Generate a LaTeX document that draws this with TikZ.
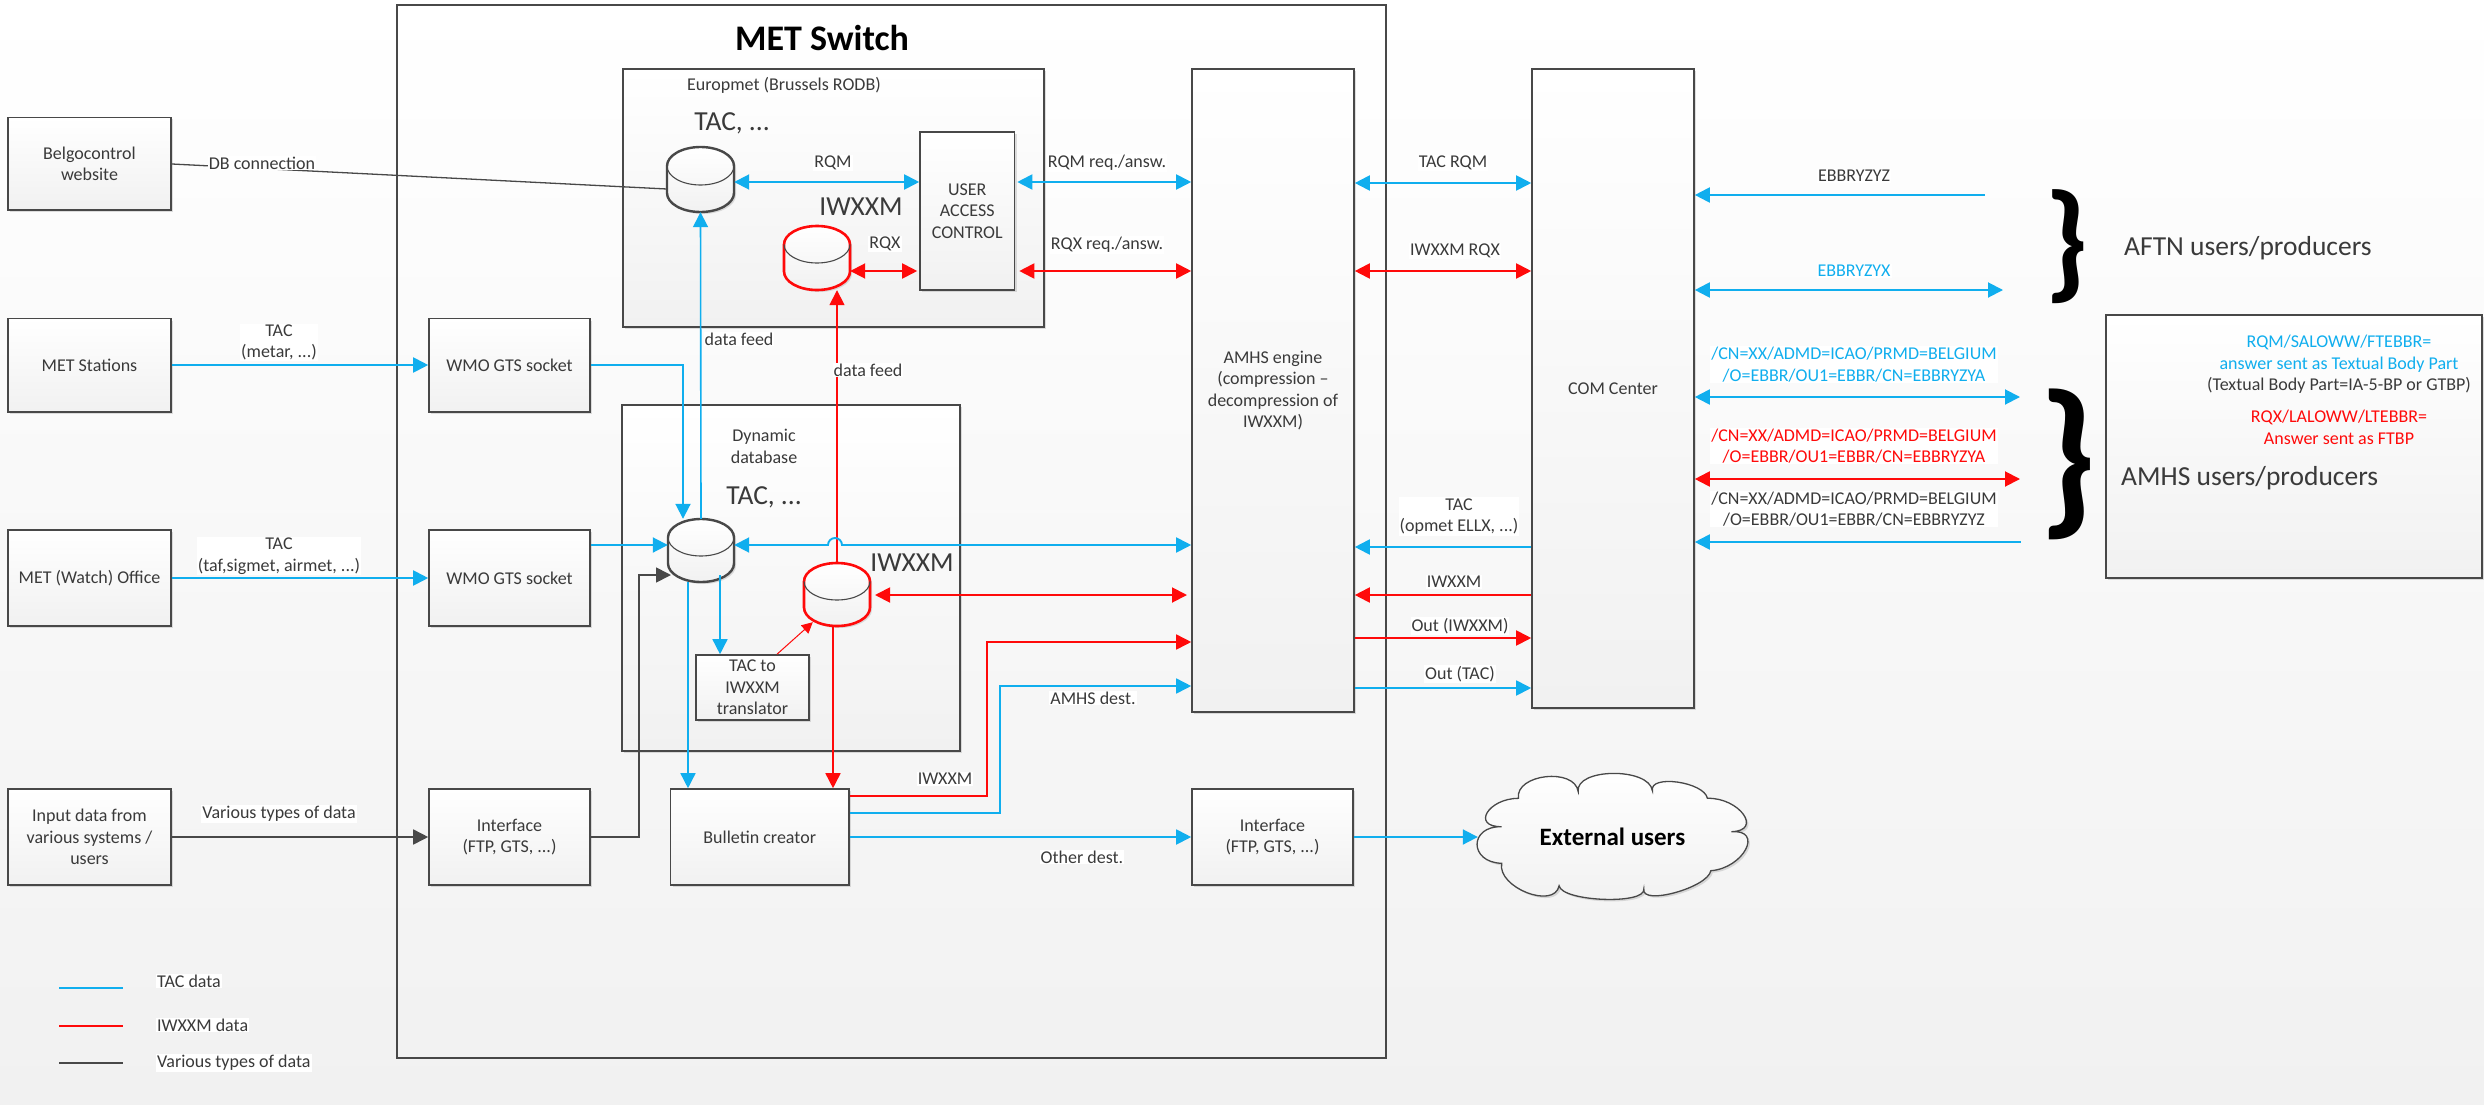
\documentclass[tikz,border=0pt]{standalone}
\usepackage{fontspec}
\setmainfont{Carlito}
\usetikzlibrary{arrows.meta,shadows,calc}
\definecolor{tacblue}{HTML}{10AEEE}
\definecolor{iwred}{HTML}{FF0A0A}
\definecolor{edge}{HTML}{484848}
\definecolor{ink}{HTML}{3A3A3A}
\definecolor{lowgray}{HTML}{F1F1F1}
\tikzset{
  >={Triangle[length=15pt,width=15pt]},
  small/.style={font=\fontsize{18}{21.5}\selectfont},
  big/.style={font=\fontsize{27.5}{32}\selectfont},
  sdw/.style={drop shadow={opacity=.25,shadow xshift=2pt,shadow yshift=-2pt}},
  box/.style={draw=edge,line width=1.6pt,top color=white,bottom color=lowgray,inner sep=0pt,
     align=center,text=ink,small,sdw},
  lbl/.style={fill=white,inner sep=1pt,align=center,text=ink,small},
  plain/.style={inner sep=0pt,align=center,text=ink,small},
  tac/.style={draw=tacblue,line width=1.9pt},
  iw/.style={draw=iwred,line width=1.9pt},
  var/.style={draw=edge,line width=1.7pt},
}
\newcommand{\boxat}[6]{\node[box,minimum width={(#4)-(#2)},minimum height={(#5)-(#3)}]
  (#1) at ({(#2+#4)/2},{(#3+#5)/2}) {#6};}
% name x1 y1 x2 y2 capbottom colour width
\newcommand{\dbat}[8]{%
  \pgfmathsetmacro{\rx}{(#4-#2)/2}\pgfmathsetmacro{\ry}{(#6-#3)/2}
  \path[draw=#7,line width=#8,top color=white,bottom color=lowgray,sdw]
    (#2,#3+\ry) arc[start angle=180,end angle=0,x radius=\rx pt,y radius=\ry pt]
    -- (#4,#5-\ry) arc[start angle=0,end angle=-180,x radius=\rx pt,y radius=\ry pt] -- cycle;
  \draw[edge,line width=1.1pt] (#2,#3+\ry) arc[start angle=180,end angle=360,x radius=\rx pt,y radius=\ry pt];
  \node[inner sep=0pt,minimum width={(#4)-(#2)},minimum height={(#5)-(#3)}] (#1) at ({(#2+#4)/2},{(#3+#5)/2}) {};}
% cloud lobe from cusp a through crest p to cusp b
\newcommand{\lobe}[3]{.. controls ($.333*(#1)+1.333*(#2)-.667*(#3)$) and ($.333*(#3)+1.333*(#2)-.667*(#1)$) .. (#3)}
\begin{document}
\begin{tikzpicture}[x=1pt,y=-1pt]
\useasboundingbox (0,0) rectangle (2484,1105);
\fill[top color=white,bottom color=lowgray] (0,0) rectangle (2484,1105);
% containers
\node[draw=edge,line width=1.6pt,minimum width=989pt,minimum height=1053pt,inner sep=0pt] (metsw) at (891.5,531.5) {};
\node[inner sep=0pt,font=\fontsize{36}{42}\selectfont\bfseries] (mettitle) at (822,38) {MET Switch};
\boxat{europ}{623}{69}{1044}{327}{}
\boxat{dyn}{622}{405}{960}{751}{}
% boxes
\boxat{belgo}{8}{117.5}{171}{210}{Belgocontrol\\website}
\boxat{metst}{8}{318.5}{171}{412}{MET Stations}
\boxat{metwo}{8}{530}{171}{626}{MET (Watch) Office}
\boxat{input}{8}{789}{171}{885}{Input data from\\various systems /\\users}
\boxat{wmoa}{429}{318.5}{590}{412}{WMO GTS socket}
\boxat{wmob}{429}{530}{590}{626}{WMO GTS socket}
\boxat{ifa}{429}{789}{590}{885}{Interface\\(FTP, GTS, ...)}
\boxat{bull}{670.5}{789}{849}{885}{Bulletin creator}
\boxat{ifb}{1192}{789}{1353}{885}{Interface\\(FTP, GTS, ...)}
\boxat{uac}{920}{132}{1014.5}{290}{USER\\ACCESS\\CONTROL}
\boxat{trans}{696}{655}{809}{720}{TAC to\\IWXXM\\translator}
\boxat{amhs}{1192}{69}{1354}{712}{AMHS engine\\(compression --\\decompression of\\IWXXM)}
\boxat{com}{1532}{69}{1694}{708}{COM Center}
\boxat{right}{2106}{315}{2482}{578}{}
% cloud
\coordinate (ca) at (1518.4,798.3);\coordinate (pa) at (1547,777.3);
\coordinate (cb) at (1578.2,791.7);\coordinate (pb) at (1614,774);
\coordinate (cc) at (1652.4,790.7);\coordinate (pc) at (1678.7,782.7);
\coordinate (cd) at (1707.4,798.3);\coordinate (pd) at (1744.7,815);
\coordinate (ce) at (1731.3,831.7);\coordinate (pe) at (1747,850);
\coordinate (cf) at (1710.8,870.7);\coordinate (pf) at (1676.3,893.3);
\coordinate (cg) at (1643.8,889);\coordinate (pg) at (1604.5,900);
\coordinate (ch) at (1559.1,885.7);\coordinate (ph) at (1528,893.3);
\coordinate (ci) at (1501.7,863.3);\coordinate (pi) at (1478.2,845);
\coordinate (cj) at (1501.7,826.7);\coordinate (pj) at (1488.3,813.3);
\path[draw=edge,line width=1.3pt,top color=white,bottom color=lowgray,sdw]
  (ca) \lobe{ca}{pa}{cb} \lobe{cb}{pb}{cc} \lobe{cc}{pc}{cd} \lobe{cd}{pd}{ce} \lobe{ce}{pe}{cf}
  \lobe{cf}{pf}{cg} \lobe{cg}{pg}{ch} \lobe{ch}{ph}{ci} \lobe{ci}{pi}{cj} \lobe{cj}{pj}{ca} -- cycle;
\node[minimum width=269pt,minimum height=126pt,inner sep=0pt,font=\fontsize{25}{29}\selectfont\bfseries,text=black] (ext) at (1612.5,837) {External users};
% databases
\dbat{dba}{667}{147}{734}{212}{185}{edge}{2.4pt}
\dbat{dbb}{784}{226}{850}{290}{263}{iwred}{2.6pt}
\dbat{dbc}{668}{519}{734}{582}{556}{edge}{2.4pt}
\dbat{dbd}{804}{563}{870}{626}{600}{iwred}{2.6pt}
% free ends
\coordinate (re1) at (875,595);
\coordinate (re2) at (1187,595);
\coordinate (fa) at (1985,195);
\coordinate (fb) at (2003,290);
\coordinate (fc) at (2020,397);
\coordinate (fd) at (2020,479);
\coordinate (fe) at (2021,542);
\coordinate (la1) at (59,988);\coordinate (la2) at (123,988);
\coordinate (lb1) at (59,1026);\coordinate (lb2) at (123,1026);
\coordinate (lc1) at (59,1063);\coordinate (lc2) at (123,1063);
% connectors: left part
\draw[edge,line width=1.3pt] (belgo.east |- 0,164) -- (dba.west |- 0,189);
\draw[tac,->] (metst.east |- 0,365) -- (wmoa.west |- 0,365);
\draw[var,->] (input.east) -- (ifa.west);
\draw[tac,->] (wmoa.east) -| (683,0 |- dbc.north);
\draw[tac,->] (wmob.east |- 0,545) -- (dbc.west |- 0,545);
\draw[var,->] (ifa.east) -| (639,575) -- (671,575);
\draw[tac,->,line width=1.6pt] (dbc.north) -- (dba.south);
\draw[iw,->,line width=1.6pt] (dbd.north) -- (dbd.north |- dbb.south);
% Europmet
\draw[tac,<->] (dba.east |- 0,182) -- (uac.west |- 0,182);
\draw[iw,<->] (dbb.east |- 0,271) -- ([xshift=-2pt]uac.west |- 0,271);
\draw[tac,<->] ([xshift=2pt]uac.east |- 0,182) -- (amhs.west |- 0,182);
\draw[iw,<->] ([xshift=4pt]uac.east |- 0,271) -- (amhs.west |- 0,271);
% dynamic db
\draw[tac,<->] (dbc.east |- 0,545) -- (828,545) arc[start angle=180,end angle=0,radius=7pt] -- (amhs.west |- 0,545);
\draw[iw,<->] (re1) -- (re2);
\draw[tac,->,line width=1.5pt] (dbc.south -| 688,0) -- (bull.north -| 688,0);
\draw[tac,->,line width=1.5pt] ([yshift=7pt]dbc.south -| 720,0) -- (trans.north -| 720,0);
\draw[iwred,line width=1pt,-{Triangle[length=11pt,width=11pt]}] (trans.north -| 777,0) -- ([shift={(9pt,4pt)}]dbd.south west);
\draw[iw,->,line width=1.6pt] (dbd.south -| 833,0) -- (bull.north -| 833,0);
\draw[iw,->,line width=1.6pt] (bull.east |- 0,796) -| (987,642) -- (amhs.west |- 0,642);
\draw[tac,->,line width=1.6pt] (bull.east |- 0,813) -| (1000,686) -- (amhs.west |- 0,686);
\draw[tac,->] (bull.east) -- (ifb.west);
\draw[tac,->] (ifb.east) -- (ext.west);
% AMHS - COM
\draw[tac,<->] (amhs.east |- 0,183) -- (com.west |- 0,183);
\draw[iw,<->] (amhs.east |- 0,271) -- (com.west |- 0,271);
\draw[tac,<-] (amhs.east |- 0,547) -- (com.west |- 0,547);
\draw[iw,<-] (amhs.east |- 0,595) -- (com.west |- 0,595);
\draw[iw,->] (amhs.east |- 0,638) -- (com.west |- 0,638);
\draw[tac,->] (amhs.east |- 0,688) -- (com.west |- 0,688);
% COM - users
\draw[tac,<-] (com.east |- fa) -- (fa);
\draw[tac,<->] (com.east |- fb) -- (fb);
\draw[tac,<->] (com.east |- fc) -- (fc);
\draw[iw,<->] (com.east |- fd) -- (fd);
\draw[tac,<-] (com.east |- fe) -- (fe);
% labels
\node[lbl] (l1) at (262,163) {DB connection};
\node[lbl] (l2) at (279,342.5) {TAC\\(metar, ...)};
\node[lbl] (l3) at (279,556) {TAC\\(taf,sigmet, airmet, ...)};
\draw[tac,->] (metwo.east) -- (wmob.west);
\node[lbl] (l4) at (279,814) {Various types of data};
\node[plain] (t1) at (784,85) {Europmet (Brussels RODB)};
\node[plain,big] (t2) at (732,123) {TAC, ...};
\node[plain,big] (t3) at (861,207) {IWXXM};
\node[plain] (t4) at (764,446.5) {Dynamic\\database};
\node[plain,big] (t5) at (764,497) {TAC, ...};
\node[plain,big] (t6) at (912,563) {IWXXM};
\node[lbl] (l5) at (833,163) {RQM};
\node[lbl] (l6) at (885,244) {RQX};
\node[lbl] (l7) at (1107,163) {RQM req./answ.};
\node[lbl] (l8) at (1107,245) {RQX req./answ.};
\node[lbl] (l9) at (739,339) {data feed};
\node[lbl] (l10) at (868,370) {data feed};
\node[lbl] (l11) at (945,779) {IWXXM};
\node[lbl] (l12) at (1093,698) {AMHS dest.};
\node[lbl] (l13) at (1082,857) {Other dest.};
\node[lbl] (l14) at (1453,163) {TAC RQM};
\node[lbl] (l15) at (1455,251) {IWXXM RQX};
\node[lbl] (l16) at (1459,516.5) {TAC\\(opmet ELLX, ...)};
\node[lbl] (l17) at (1454,582) {IWXXM};
\node[lbl] (l18) at (1460,626) {Out (IWXXM)};
\node[lbl] (l19) at (1460,674) {Out (TAC)};
\node[lbl] (l20) at (1854,176) {EBBRYZYZ};
\node[lbl,text=tacblue] (l21) at (1854,271) {EBBRYZYX};
\node[lbl,text=tacblue] (l22) at (1854,364.5) {/CN=XX/ADMD=ICAO/PRMD=BELGIUM\\/O=EBBR/OU1=EBBR/CN=EBBRYZYA};
\node[lbl,text=iwred] (l23) at (1854,446) {/CN=XX/ADMD=ICAO/PRMD=BELGIUM\\/O=EBBR/OU1=EBBR/CN=EBBRYZYA};
\node[lbl] (l24) at (1854,509) {/CN=XX/ADMD=ICAO/PRMD=BELGIUM\\/O=EBBR/OU1=EBBR/CN=EBBRYZYZ};
% right box
\node[plain] (r1) at (2339,364.5) {\textcolor{tacblue}{RQM/SALOWW/FTEBBR=}\\\textcolor{tacblue}{answer sent as Textual Body Part}\\(Textual Body Part=IA-5-BP or GTBP)};
\node[plain,text=iwred] (r2) at (2339,427.5) {RQX/LALOWW/LTEBBR=\\Answer sent as FTBP};
\node[plain,big,anchor=west,text=ink] (r3) at (2124,248) {AFTN users/producers};
\node[plain,big,anchor=west,text=ink] (r4) at (2121,478) {AMHS users/producers};
% braces
\node[inner sep=0pt,text=black,font=\fontsize{130}{135}\selectfont\bfseries] (bra) at (2067,246.5) {\}};
\node[inner sep=0pt,text=black,font=\fontsize{172}{177}\selectfont\bfseries] (brb) at (2068,464.5) {\}};
% legend
\draw[tac] (la1) -- (la2);
\draw[iw] (lb1) -- (lb2);
\draw[var] (lc1) -- (lc2);
\node[lbl,anchor=west] (k1) at (156,981) {TAC data};
\node[lbl,anchor=west] (k2) at (156,1025) {IWXXM data};
\node[lbl,anchor=west] (k3) at (156,1063) {Various types of data};
\end{tikzpicture}
\end{document}
